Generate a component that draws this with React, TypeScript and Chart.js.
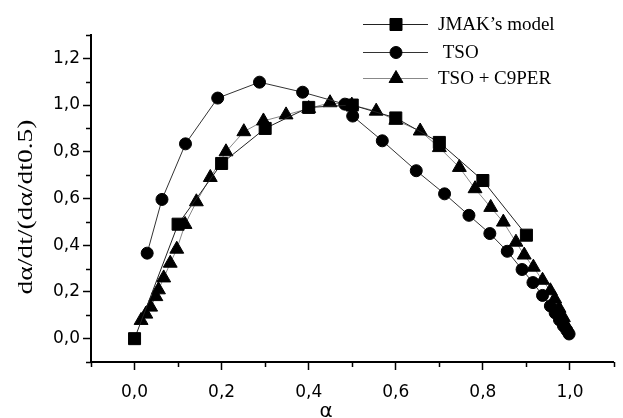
import { useEffect, useRef } from 'react';
import { Chart, registerables } from 'chart.js';
import { drawPoint } from 'chart.js/helpers';

Chart.register(...registerables);

const JMAK_X = [0, 0.1, 0.2, 0.3, 0.4, 0.5, 0.6, 0.7, 0.8, 0.9];
const JMAK_Y = [0, 0.49, 0.75, 0.9, 0.99, 1.0, 0.945, 0.84, 0.677, 0.443];

const TSO_X = [0.029, 0.063, 0.117, 0.191, 0.287, 0.386, 0.483, 0.501, 0.569, 0.647, 0.712, 0.768, 0.816, 0.856, 0.89, 0.915, 0.937, 0.955, 0.966, 0.976, 0.985, 0.993, 0.998];
const TSO_Y = [0.366, 0.596, 0.834, 1.03, 1.098, 1.055, 1.004, 0.953, 0.847, 0.719, 0.62, 0.528, 0.45, 0.374, 0.296, 0.24, 0.185, 0.14, 0.11, 0.08, 0.055, 0.035, 0.02];

const C9_X = [0.015, 0.026, 0.037, 0.049, 0.055, 0.067, 0.082, 0.097, 0.116, 0.142, 0.174, 0.21, 0.251, 0.296, 0.348, 0.4, 0.449, 0.499, 0.555, 0.6, 0.656, 0.7, 0.746, 0.782, 0.818, 0.847, 0.876, 0.895, 0.916, 0.937, 0.955, 0.965, 0.975, 0.985, 0.993];
const C9_Y = [0.078, 0.105, 0.135, 0.18, 0.209, 0.26, 0.323, 0.383, 0.489, 0.586, 0.69, 0.8, 0.886, 0.932, 0.958, 0.985, 1.01, 1.0, 0.974, 0.935, 0.889, 0.818, 0.733, 0.642, 0.562, 0.499, 0.413, 0.358, 0.306, 0.25, 0.205, 0.17, 0.13, 0.09, 0.05];

const SERIES_LABELS = ['JMAK\u2019s model', ' TSO', 'TSO + C9PER'];
const X_MAJOR = [0, 0.2, 0.4, 0.6, 0.8, 1.0];
const X_MINOR = [-0.1, 0.1, 0.3, 0.5, 0.7, 0.9, 1.1];
const Y_MAJOR = [0, 0.2, 0.4, 0.6, 0.8, 1.0, 1.2];
const Y_MINOR = [-0.1, 0.1, 0.3, 0.5, 0.7, 0.9, 1.1, 1.3];
const X_TITLE = '\u03b1';
const Y_TITLE = 'd\u03b1/dt/(d\u03b1/dt0.5)';

const pts = (xs: number[], ys: number[]) => xs.map((x, i) => ({ x, y: ys[i] }));
const fmt = (v: number) => v.toFixed(1).replace('.', ',');

const decorPlugin = {
  id: 'decor',
  afterDraw(chart: any) {
    const ctx = chart.ctx as CanvasRenderingContext2D;
    const xs = chart.scales.x;
    const ys = chart.scales.y;
    const area = chart.chartArea;
    ctx.save();
    // minor ticks
    ctx.strokeStyle = '#000';
    ctx.lineWidth = 1.5;
    ctx.beginPath();
    X_MINOR.forEach((v) => {
      const px = Math.round(xs.getPixelForValue(v)) + 0.5;
      ctx.moveTo(px, area.bottom);
      ctx.lineTo(px, area.bottom + 5);
    });
    Y_MINOR.forEach((v) => {
      const py = Math.round(ys.getPixelForValue(v)) + 0.5;
      ctx.moveTo(area.left, py);
      ctx.lineTo(area.left - 5, py);
    });
    ctx.stroke();

    // legend
    const rows = [24, 52, 78];
    chart.data.datasets.forEach((ds: any, i: number) => {
      const y = rows[i];
      ctx.strokeStyle = ds.borderColor;
      ctx.lineWidth = 1;
      ctx.beginPath();
      ctx.moveTo(363, y + 0.5);
      ctx.lineTo(428, y + 0.5);
      ctx.stroke();
      ctx.fillStyle = '#000';
      ctx.strokeStyle = '#000';
      drawPoint(ctx, { pointStyle: ds.pointStyle, radius: ds.pointRadius, rotation: 0, borderWidth: 1 } as any, 396, y + 0.5);
      ctx.fillStyle = '#000';
      ctx.font = '19px "Liberation Serif"';
      ctx.textAlign = 'left';
      ctx.textBaseline = 'middle';
      ctx.fillText(ds.label, 438, y + 1);
    });

    // y title
    ctx.save();
    ctx.translate(26, 207);
    ctx.rotate(-Math.PI / 2);
    ctx.font = '21px "Liberation Serif"';
    const w = ctx.measureText(Y_TITLE).width;
    ctx.scale(175 / w, 1);
    ctx.textAlign = 'center';
    ctx.textBaseline = 'middle';
    ctx.fillStyle = '#000';
    ctx.fillText(Y_TITLE, 0, 0);
    ctx.restore();

    // x title
    ctx.font = '20px "DejaVu Sans"';
    ctx.textAlign = 'center';
    ctx.textBaseline = 'middle';
    ctx.fillStyle = '#000';
    ctx.fillText(X_TITLE, xs.getPixelForValue(0.44), 412);
    ctx.restore();
  },
};

export default function App() {
  const ref = useRef<HTMLCanvasElement | null>(null);
  useEffect(() => {
    if (!ref.current) return;
    const common = { showLine: true, borderWidth: 1, pointBorderWidth: 1, pointBackgroundColor: '#000', pointBorderColor: '#000', fill: false, tension: 0 };
    const chart = new Chart(ref.current, {
      type: 'scatter',
      data: {
        datasets: [
          { ...common, label: SERIES_LABELS[0], data: pts(JMAK_X, JMAK_Y), borderColor: '#222', pointStyle: 'rect', pointRadius: 8.5 },
          { ...common, label: SERIES_LABELS[1], data: pts(TSO_X, TSO_Y), borderColor: '#333', pointStyle: 'circle', pointRadius: 6 },
          { ...common, label: SERIES_LABELS[2], data: pts(C9_X, C9_Y), borderColor: '#888', pointStyle: 'triangle', pointRadius: 8 },
        ] as any,
      },
      options: {
        animation: false,
        responsive: false,
        layout: { padding: { top: 35, right: 0, left: 0, bottom: 0 } },
        plugins: { legend: { display: false }, tooltip: { enabled: false }, title: { display: false } },
        scales: {
          x: {
            type: 'linear',
            min: -0.1,
            max: 1.1,
            afterBuildTicks: (s: any) => { s.ticks = X_MAJOR.map((v) => ({ value: v })); },
            afterFit: (s: any) => { s.height = 56; },
            border: { display: true, width: 2, color: '#000' },
            grid: { drawOnChartArea: false, drawTicks: true, tickLength: 8, tickWidth: 1.5, tickColor: '#000' },
            ticks: { color: '#000', font: { family: '"DejaVu Sans"', size: 17 }, padding: 12, maxRotation: 0, callback: (v: any) => fmt(Number(v)) },
          },
          y: {
            type: 'linear',
            min: -0.1,
            max: 1.3,
            afterBuildTicks: (s: any) => { s.ticks = Y_MAJOR.map((v) => ({ value: v })); },
            afterFit: (s: any) => { s.width = 91; },
            border: { display: true, width: 2, color: '#000' },
            grid: { drawOnChartArea: false, drawTicks: true, tickLength: 8, tickWidth: 1.5, tickColor: '#000' },
            ticks: { color: '#000', font: { family: '"DejaVu Sans"', size: 17 }, padding: 3, callback: (v: any) => fmt(Number(v)) },
          },
        },
      },
      plugins: [decorPlugin],
    });
    return () => chart.destroy();
  }, []);
  return (
    <div style={{ position: 'absolute', left: 0, top: 0, width: 623, height: 418, background: '#fff' }}>
      <canvas ref={ref} width={623} height={418} style={{ display: 'block' }} />
    </div>
  );
}
